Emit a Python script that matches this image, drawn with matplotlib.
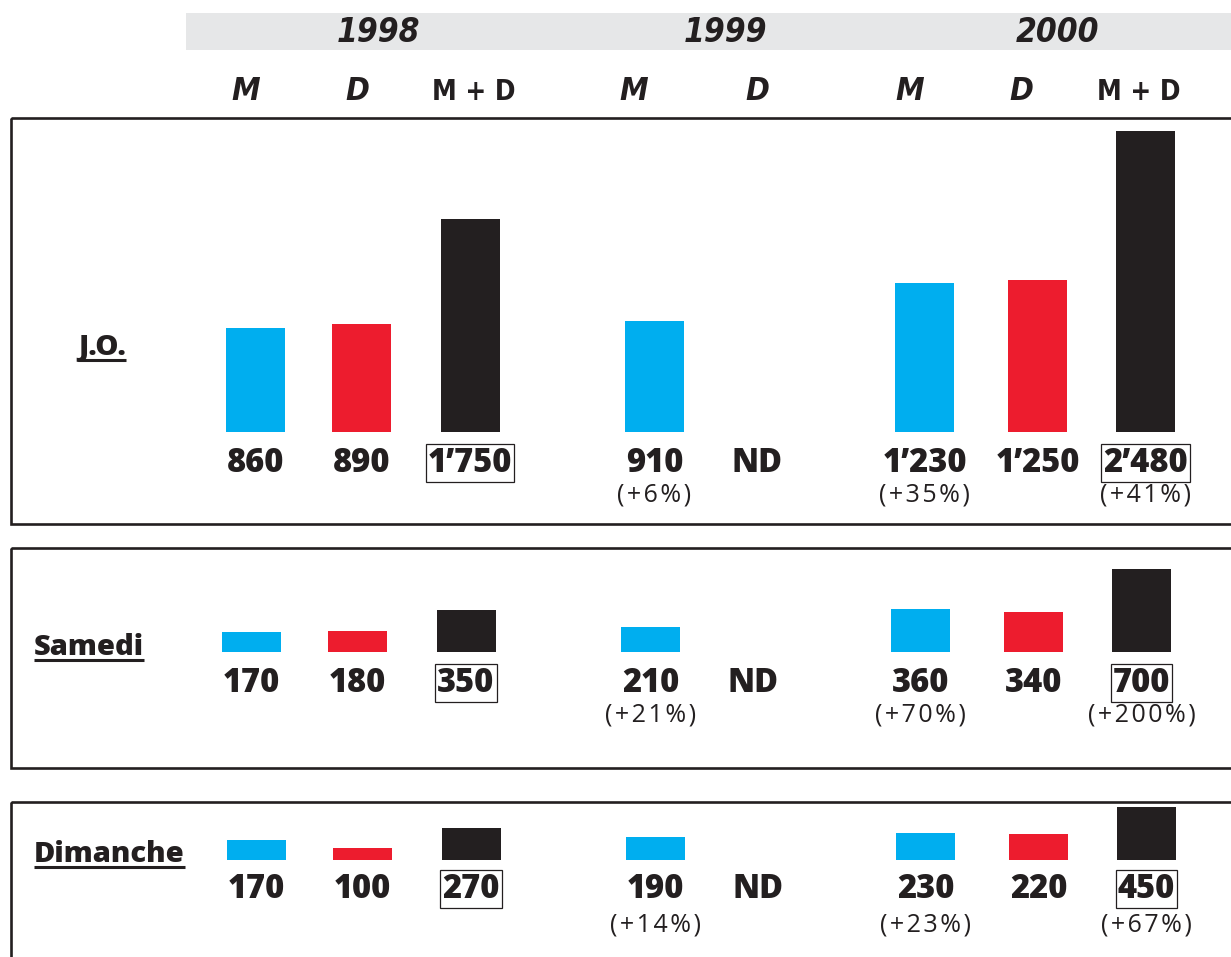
import matplotlib
matplotlib.use("Agg")
import matplotlib.pyplot as plt
from matplotlib.patches import Rectangle

# Données : visiteurs par jour (M = ..., D = ..., M + D = total)
colonnes = ["1998 M", "1998 D", "1998 M+D", "1999 M", "1999 D", "2000 M", "2000 D", "2000 M+D"]
annees = ["1998", "1999", "2000"]
entetes = ["M", "D", "M + D", "M", "D", "M", "D", "M + D"]
lignes = ["J.O.", "Samedi", "Dimanche"]

jo = [860, 890, 1750, 910, None, 1230, 1250, 2480]
samedi = [170, 180, 350, 210, None, 360, 340, 700]
dimanche = [170, 100, 270, 190, None, 230, 220, 450]

jo_pct = [None, None, None, "(+6%)", None, "(+35%)", None, "(+41%)"]
samedi_pct = [None, None, None, "(+21%)", None, "(+70%)", None, "(+200%)"]
dimanche_pct = [None, None, None, "(+14%)", None, "(+23%)", None, "(+67%)"]

BLEU = "#00aeef"
ROUGE = "#ed1c2e"
NOIR = "#231f20"
couleurs = [BLEU, ROUGE, NOIR, BLEU, ROUGE, BLEU, ROUGE, NOIR]
totaux = [False, False, True, False, False, False, False, True]

W, H = 1231, 957
fig = plt.figure(figsize=(W / 100, H / 100), dpi=100)

# calque en pixels pour les cadres et les textes
bg = fig.add_axes([0, 0, 1, 1])
bg.set_xlim(0, W)
bg.set_ylim(H, 0)
bg.axis("off")

gras = ["Open Sans", "DejaVu Sans"]
etroit = ["DejaVu Sans"]

# bandeau des années
bg.add_patch(Rectangle((186, 13), W - 186, 37, fc="#e6e7e8", ec="none"))
x_annees = [378, 725, 1058]
for x, a in zip(x_annees, annees):
    bg.text(x, 42, a, ha="center", va="baseline", fontsize=24, fontweight="bold",
            fontstyle="italic", fontstretch="condensed", family=etroit, color=NOIR)

x_entetes = [246, 357, 474, 634, 757, 910, 1021, 1139]
for x, e in zip(x_entetes, entetes):
    italique = "+" not in e
    bg.text(x, 100, e, ha="center", va="baseline", fontsize=23 if italique else 20,
            fontweight="bold", fontstyle="italic" if italique else "normal",
            fontstretch="condensed", family=etroit, color=NOIR)

x_barres = [255.5, 361.5, 470, 654.5, 757, 924.5, 1037.5, 1145.5]


def fmt(v):
    s = f"{v:,}"
    return s.replace(",", "\u2019")


def espace(s):
    # léger espacement des lettres pour les pourcentages
    return "\u200a".join(s)


# (valeurs, pourcentages, libellé, base px, décalage x, haut cadre, bas cadre, px par unité,
#  y ligne valeur, y ligne pct, y libellé, gauche libellé)
panneaux = [
    (jo, jo_pct, lignes[0], 432, 0, 118, 524, 0.1215, 472, 501, 355, 78),
    (samedi, samedi_pct, lignes[1], 652, -4, 548, 768, 0.119, 692, 721, 655, 34),
    (dimanche, dimanche_pct, lignes[2], 860, 1, 802, 975, 0.119, 898, 932, 862, 34),
]

for vals, pcts, nom, base, dx, haut, bas, k, y_val, y_pct, y_nom, x_nom in panneaux:
    bg.add_patch(Rectangle((11, haut), W + 20, bas - haut, fc="none", ec=NOIR, lw=1.9))

    hpx = base - haut - 5
    ax = fig.add_axes([0, 1 - base / H, 1, hpx / H])
    ax.set_xlim(0, W)
    ax.set_ylim(0, hpx / k)
    ax.axis("off")

    xs = [x + dx for x in x_barres]
    for x, v, c in zip(xs, vals, couleurs):
        if v is not None:
            ax.bar(x, v, width=59, color=c, linewidth=0)

    for x, v, p, t in zip(xs, vals, pcts, totaux):
        txt = "ND" if v is None else fmt(v)
        kw = {}
        if t:
            kw["bbox"] = dict(boxstyle="square,pad=0.06", fc="none", ec=NOIR, lw=0.9)
        bg.text(x, y_val, txt, ha="center", va="baseline", fontsize=23.5,
                fontweight=800, family=gras, color=NOIR, **kw)
        if p:
            bg.text(x, y_pct, espace(p), ha="center", va="baseline", fontsize=18,
                    family=gras, color=NOIR)

    t = bg.text(x_nom, y_nom, nom, ha="left", va="baseline", fontsize=21,
                fontweight=800, family=gras, color=NOIR)
    fig.canvas.draw()
    bb = t.get_window_extent().transformed(bg.transData.inverted())
    bg.plot([bb.x0, bb.x1], [y_nom + 5, y_nom + 5], color=NOIR, lw=2.2,
            solid_capstyle="butt")

fig.savefig("out.png", dpi=100)
